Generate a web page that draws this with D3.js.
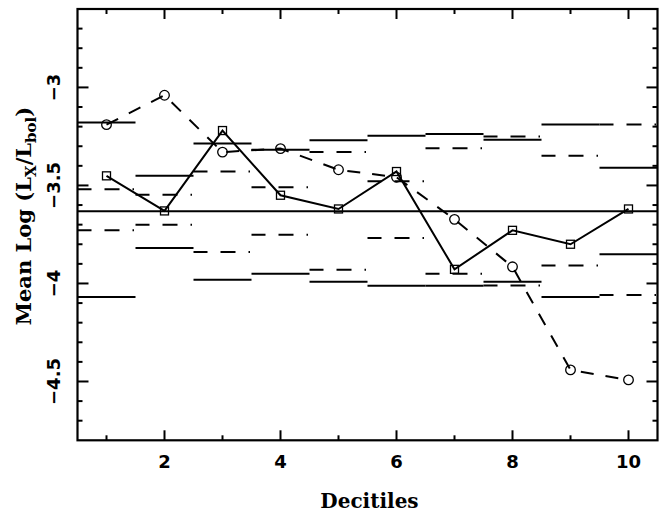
<!DOCTYPE html>
<html>
<head>
<meta charset="utf-8">
<script src="https://d3js.org/d3.v7.min.js"></script>
<style>
  html, body { margin: 0; padding: 0; background: #fff; }
  svg { display: block; }
</style>
</head>
<body>
<svg id="chart" width="667" height="516"></svg>
<script>
// Decile bins
const deciles = [1, 2, 3, 4, 5, 6, 7, 8, 9, 10];

// Mean log(Lx/Lbol) per decile: squares (solid) and circles (dashed)
const meanSquares = [-3.451, -3.630, -3.220, -3.550, -3.620, -3.429, -3.928, -3.729, -3.800, -3.620];
const meanCircles = [-3.190, -3.040, -3.330, -3.312, -3.420, -3.458, -3.673, -3.915, -4.441, -4.492];

// Overall mean level
const overallMean = -3.632;

// Per-decile band limits around the overall mean
const solidUpper = [-3.179, -3.450, -3.286, -3.318, -3.269, -3.247, -3.238, -3.267, -3.189, -3.410];
const solidLower = [-4.069, -3.819, -3.981, -3.950, -3.991, -4.012, -4.012, -3.991, -4.069, -3.851];
const dashUpper  = [-3.519, -3.548, -3.429, -3.509, -3.330, -3.478, -3.310, -3.250, -3.349, -3.189];
const dashLower  = [-3.729, -3.700, -3.840, -3.751, -3.930, -3.768, -3.950, -4.010, -3.909, -4.059];

// Axis ticks
const xMajorTicks = [2, 4, 6, 8, 10];
const xMinorTicks = [1, 3, 5, 7, 9];
const yMajorTicks = [-4.5, -4, -3.5, -3];
const yMinorTicks = d3.range(-4.7, -2.6, 0.1).map(v => +v.toFixed(1));

const svg = d3.select("#chart");
const plotLeft = 77.5, plotRight = 657.5, plotTop = 9, plotBottom = 440.3;

const x = d3.scaleLinear().domain([0.5, 10.5]).range([plotLeft, plotRight]);
const y = d3.scaleLinear().domain([-4.8, -2.6]).range([plotBottom, plotTop]);

const ink = "#000";

// Band segments spanning each decile bin
function bandSegments(values, cls, dash) {
  svg.append("g").attr("class", cls)
    .selectAll("line").data(deciles).join("line")
    .attr("x1", d => x(d - 0.5))
    .attr("x2", d => x(d + 0.5))
    .attr("y1", (d, i) => y(values[i]))
    .attr("y2", (d, i) => y(values[i]))
    .attr("stroke", ink)
    .attr("stroke-width", 2)
    .attr("stroke-dasharray", dash);
}
bandSegments(solidUpper, "band-solid-upper", null);
bandSegments(solidLower, "band-solid-lower", null);
bandSegments(dashUpper, "band-dash-upper", "14,13,15,13,1.5,10");
bandSegments(dashLower, "band-dash-lower", "14,13,15,13,1.5,10");

// Overall mean line
svg.append("line")
  .attr("x1", x(0.5)).attr("x2", x(10.5))
  .attr("y1", y(overallMean)).attr("y2", y(overallMean))
  .attr("stroke", ink).attr("stroke-width", 2);

// Squares series (solid)
const seriesLine = d3.line().x((d, i) => x(deciles[i])).y(d => y(d));
svg.append("path")
  .datum(meanSquares)
  .attr("d", seriesLine)
  .attr("fill", "none")
  .attr("stroke", ink)
  .attr("stroke-width", 2);

svg.append("g").selectAll("rect").data(meanSquares).join("rect")
  .attr("x", (d, i) => x(deciles[i]) - 4)
  .attr("y", d => y(d) - 4)
  .attr("width", 8).attr("height", 8)
  .attr("fill", "none")
  .attr("stroke", ink)
  .attr("stroke-width", 1.3);

// Circles series (dashed)
svg.append("path")
  .datum(meanCircles)
  .attr("d", seriesLine)
  .attr("fill", "none")
  .attr("stroke", ink)
  .attr("stroke-width", 2)
  .attr("stroke-dasharray", "13,12");

svg.append("g").selectAll("circle").data(meanCircles).join("circle")
  .attr("cx", (d, i) => x(deciles[i]))
  .attr("cy", d => y(d))
  .attr("r", 4.8)
  .attr("fill", "none")
  .attr("stroke", ink)
  .attr("stroke-width", 1.3);

// Frame
svg.append("rect")
  .attr("x", plotLeft).attr("y", plotTop)
  .attr("width", plotRight - plotLeft).attr("height", plotBottom - plotTop)
  .attr("fill", "none").attr("stroke", ink).attr("stroke-width", 2.2);

// Inward ticks on all four sides
const tickG = svg.append("g").attr("stroke", ink).attr("stroke-width", 2);
function xTicks(vals, len) {
  tickG.selectAll(null).data(vals).join("line")
    .attr("x1", d => x(d)).attr("x2", d => x(d))
    .attr("y1", plotBottom).attr("y2", plotBottom - len);
  tickG.selectAll(null).data(vals).join("line")
    .attr("x1", d => x(d)).attr("x2", d => x(d))
    .attr("y1", plotTop).attr("y2", plotTop + len);
}
function yTicks(vals, len) {
  tickG.selectAll(null).data(vals).join("line")
    .attr("y1", d => y(d)).attr("y2", d => y(d))
    .attr("x1", plotLeft).attr("x2", plotLeft + len);
  tickG.selectAll(null).data(vals).join("line")
    .attr("y1", d => y(d)).attr("y2", d => y(d))
    .attr("x1", plotRight).attr("x2", plotRight - len);
}
xTicks(xMajorTicks, 10);
xTicks(xMinorTicks, 5);
yTicks(yMajorTicks, 11);
yTicks(yMinorTicks.filter(v => !yMajorTicks.some(m => Math.abs(m - v) < 1e-6)), 5);

// Tick labels
const tickFont = "'DejaVu Sans', sans-serif";
svg.append("g").selectAll("text").data(xMajorTicks).join("text")
  .attr("x", d => x(d)).attr("y", 468)
  .attr("text-anchor", "middle")
  .attr("font-family", tickFont)
  .attr("font-size", 18).attr("font-weight", "bold")
  .attr("fill", ink)
  .text(d => d);

svg.append("g").selectAll("text").data(yMajorTicks).join("text")
  .attr("transform", d => `translate(60,${y(d)}) rotate(-90)`)
  .attr("text-anchor", "middle")
  .attr("font-family", tickFont)
  .attr("font-size", 18).attr("font-weight", "bold")
  .attr("fill", ink)
  .text(d => String(d).replace("-", "\u2212"));

// Axis titles
const titleFont = "'DejaVu Serif', serif";
svg.append("text")
  .attr("x", (plotLeft + plotRight) / 2 + 2).attr("y", 508)
  .attr("text-anchor", "middle")
  .attr("font-family", titleFont)
  .attr("font-size", 20).attr("font-weight", "bold")
  .attr("fill", ink)
  .text("Decitiles");

const yTitle = svg.append("text")
  .attr("transform", `translate(31,216) rotate(-90)`)
  .attr("text-anchor", "middle")
  .attr("font-family", titleFont)
  .attr("font-size", 21).attr("font-weight", "bold")
  .attr("fill", ink);
yTitle.append("tspan").text("Mean Log (L");
yTitle.append("tspan").attr("font-size", 15).attr("dy", 5).text("X");
yTitle.append("tspan").attr("dy", -5).text("/L");
yTitle.append("tspan").attr("font-size", 15).attr("dy", 5).text("bol");
yTitle.append("tspan").attr("dy", -5).text(")");
</script>
</body>
</html>
